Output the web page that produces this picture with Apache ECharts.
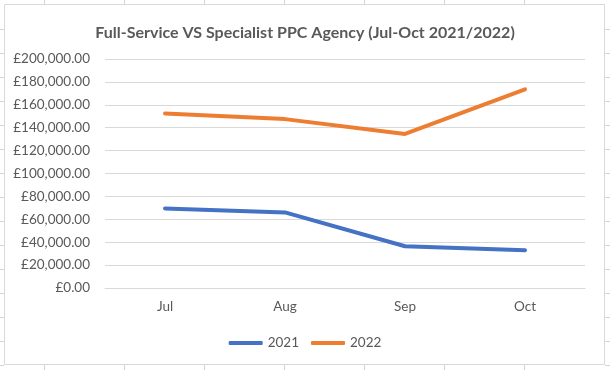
<!DOCTYPE html>
<html>
<head>
<meta charset="utf-8">
<script src="https://cdn.jsdelivr.net/npm/echarts@6/dist/echarts.min.js"></script>
<style>
html,body{margin:0;padding:0;background:#fff;}
#c{width:610px;height:370px;}
</style>
</head>
<body>
<div id="c"></div>
<script>
const months = ['Jul', 'Aug', 'Sep', 'Oct'];
const values2021 = [69500, 66000, 36500, 33000];
const values2022 = [152500, 147500, 134500, 173500];
const seriesNames = ['2021', '2022'];
const titleText = 'Full-Service VS Specialist PPC Agency (Jul-Oct 2021/2022)';

const FONT = 'Lato';
const TXT = '#595959';

function fmt(v) {
  return '£' + Number(v).toLocaleString('en-GB', {minimumFractionDigits: 2, maximumFractionDigits: 2});
}

// spreadsheet cell lines behind the chart object (decoration)
const deco = [];
const cellCol = '#d4d4d4';
[44, 124, 204, 284, 364, 444, 524].forEach(x => {
  deco.push({type: 'line', shape: {x1: x + 0.5, y1: 0, x2: x + 0.5, y2: 4}, style: {stroke: cellCol, lineWidth: 1}, silent: true});
  deco.push({type: 'line', shape: {x1: x + 0.5, y1: 365, x2: x + 0.5, y2: 370}, style: {stroke: cellCol, lineWidth: 1}, silent: true});
});
for (let y = 29; y <= 365; y += 24) {
  deco.push({type: 'line', shape: {x1: 0, y1: y + 0.5, x2: 4, y2: y + 0.5}, style: {stroke: cellCol, lineWidth: 1}, silent: true});
  deco.push({type: 'line', shape: {x1: 605, y1: y + 0.5, x2: 610, y2: y + 0.5}, style: {stroke: cellCol, lineWidth: 1}, silent: true});
}
deco.push({type: 'rect', shape: {x: 4.5, y: 4.5, width: 600, height: 360}, style: {fill: 'none', stroke: '#d9d9d9', lineWidth: 1}, silent: true, z: -1});

const chart = echarts.init(document.getElementById('c'), null, {renderer: 'canvas'});
chart.setOption({
  animation: false,
  backgroundColor: '#fff',
  graphic: deco,
  title: {
    text: titleText,
    left: 'center',
    top: 20,
    textStyle: {fontFamily: FONT, fontSize: 16, fontWeight: 'bold', color: TXT}
  },
  legend: {
    data: seriesNames,
    left: 'center',
    top: 331,
    icon: 'roundRect',
    itemWidth: 34,
    itemHeight: 4,
    itemGap: 12,
    textStyle: {fontFamily: FONT, fontSize: 13.5, color: TXT}
  },
  grid: {left: 105, right: 25, top: 59, bottom: 82, containLabel: false},
  xAxis: {
    type: 'category',
    data: months,
    boundaryGap: true,
    axisLine: {show: true, lineStyle: {color: '#d9d9d9'}},
    axisTick: {show: false},
    axisLabel: {fontFamily: FONT, fontSize: 13.5, color: TXT, margin: 12}
  },
  yAxis: {
    type: 'value',
    min: 0,
    max: 200000,
    interval: 20000,
    axisLine: {show: false},
    axisTick: {show: false},
    splitLine: {lineStyle: {color: '#d9d9d9', width: 1}},
    axisLabel: {fontFamily: FONT, fontSize: 13.5, color: TXT, margin: 15, formatter: fmt}
  },
  series: [
    {
      name: seriesNames[0], type: 'line', data: values2021, symbol: 'none',
      lineStyle: {color: '#4472C4', width: 4, cap: 'round', join: 'round'},
      itemStyle: {color: '#4472C4'}
    },
    {
      name: seriesNames[1], type: 'line', data: values2022, symbol: 'none',
      lineStyle: {color: '#ED7D31', width: 4, cap: 'round', join: 'round'},
      itemStyle: {color: '#ED7D31'}
    }
  ]
});
</script>
</body>
</html>
